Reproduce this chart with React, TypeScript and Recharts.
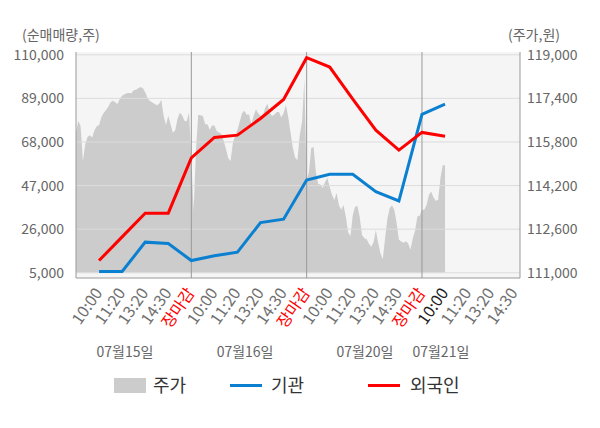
import React from "react";
import {
	Area,
	CartesianGrid,
	ComposedChart,
	Line,
	ReferenceLine,
	XAxis,
	YAxis,
} from "recharts";

// x slots: each trading day spans 5 slots (09:00 -> 장마감)
const timeLabels = [
	"10:00", "11:20", "13:20", "14:30", "장마감",
	"10:00", "11:20", "13:20", "14:30", "장마감",
	"10:00", "11:20", "13:20", "14:30", "장마감",
	"10:00", "11:20", "13:20", "14:30",
];
const dateLabels = ["07월15일", "07월16일", "07월20일", "07월21일"];
const datePositions = [1.12, 6.33, 11.53, 14.82];
const currentSlot = 15;

const leftTicks = [5000, 26000, 47000, 68000, 89000, 110000];
const rightTicks = [111000, 112600, 114200, 115800, 117400, 119000];
const closeSlots = [4, 9, 14];

// 순매매량 (cumulative), one point per slot
const lineSlots = [0, 1, 2, 3, 4, 5, 6, 7, 8, 9, 10, 11, 12, 13, 14, 15];
const foreignNet = [
	10900, 22300, 33700, 33700, 60300, 70200, 71300, 79300, 88500, 108600, 104100, 88600,
	73700, 64100, 72600, 70800,
];
const institutionNet = [
	5600, 5600, 19750, 19100, 10900, 13200, 14900, 29200, 30800, 49700, 52400, 52400, 44100,
	39600, 81300, 86200,
];

// 주가, sampled every 0.1 slot from the open of each day
const dayStarts = [-1, 4, 9, 14];
const priceDay1 = [
	116130, 116580, 116380, 115100, 115720, 115980, 116050, 115960, 116230, 116380, 116420,
	116710, 116860, 116970, 117090, 117260, 117310, 117260, 117190, 117390, 117500, 117550,
	117590, 117600, 117590, 117700, 117720, 117770, 117820, 117770, 117620, 117420, 117300,
	117260, 117200, 117150, 117190, 117350, 116750, 116420, 116760, 116450, 116140, 116230,
	116640, 116870, 116780, 116580, 116560, 116870,
];
const priceDay2 = [
	115200, 113270, 115500, 116800, 116780, 116750, 116450, 116450, 116250, 116400, 116400,
	116200, 116150, 116100, 115850, 115550, 115200, 115100, 115750, 116050, 116250, 116550,
	116850, 116950, 116800, 116820, 116450, 116750, 117000, 116850, 116750, 116770, 117050,
	117200, 116870, 116750, 116800, 116900, 116900, 116700, 116850, 117170, 116720, 116150,
	115600, 115230, 115130, 116050, 116530, 118100,
];
const priceDay3 = [
	114400, 114700, 115580, 115620, 114700, 114260, 114240, 114110, 114330, 114480, 114150,
	113850, 113670, 113930, 113480, 113310, 113490, 113050, 112480, 112350, 113120, 113420,
	113450, 113050, 112390, 112270, 112230, 112070, 111960, 112120, 112570, 112100, 111720,
	111500, 112260, 112980, 113370, 113480, 113310, 112840, 112210, 112150, 112100, 112160,
	112080, 111850, 112260, 112540, 113070, 113090,
];
const priceDay4 = [
	113310, 113310, 113490, 113850, 113980, 113760, 113640, 113670, 114480, 114950, 114950,
];
const priceDays = [priceDay1, priceDay2, priceDay3, priceDay4];

type Row = { t: number; price?: number; foreign?: number; inst?: number };

const rowMap = new Map<number, Row>();
priceDays.forEach((prices, d) => {
	prices.forEach((p, k) => {
		const key = Math.round(dayStarts[d] * 10) + k;
		rowMap.set(key, { t: key / 10, price: p });
	});
});
lineSlots.forEach((slot, i) => {
	const key = slot * 10;
	const row = rowMap.get(key) ?? { t: slot };
	row.foreign = foreignNet[i];
	row.inst = institutionNet[i];
	rowMap.set(key, row);
});
const chartData = [...rowMap.values()].sort((a, b) => a.t - b.t);

const FONT = "'Noto Sans CJK KR', 'Noto Sans', sans-serif";
const BLUE = "#0c80d0";
const RED = "#ff0000";

// biome-ignore lint/suspicious/noExplicitAny: recharts tick props
const TimeTick = (props: any) => {
	const { x, y, payload } = props;
	const i = payload.value;
	const label = timeLabels[i];
	const color = label === "장마감" ? RED : i === currentSlot ? "#222" : "#707070";
	return (
		<text
			transform={`translate(${x + 4},${y + 15}) rotate(-55)`}
			textAnchor="end"
			fontSize={16}
			fill={color}
		>
			{label}
		</text>
	);
};

// biome-ignore lint/suspicious/noExplicitAny: recharts tick props
const DateTick = (props: any) => {
	const { x, y, index } = props;
	return (
		<text x={x} y={y + 19} textAnchor="middle" fontSize={14} fill="#666">
			{dateLabels[index]}
		</text>
	);
};

export default function App() {
	return (
		<div
			style={{
				position: "absolute",
				left: 0,
				top: 0,
				width: 600,
				height: 428,
				background: "#fff",
				fontFamily: FONT,
			}}
		>
			<div style={{ position: "absolute", left: 22, top: 24, fontSize: 14, color: "#666" }}>
				(순매매량,주)
			</div>
			<div style={{ position: "absolute", left: 508, top: 24, fontSize: 14, color: "#666" }}>
				(주가,원)
			</div>

			<ComposedChart
				width={600}
				height={428}
				data={chartData}
				margin={{ top: 52, right: 0, left: 0, bottom: 60 }}
			>
				<CartesianGrid fill="#f5f5f5" horizontal={false} vertical={false} yAxisId="left" />
				<XAxis
					dataKey="t"
					type="number"
					domain={[-1, 18.25]}
					ticks={timeLabels.map((_, i) => i)}
					interval={0}
					height={60}
					tickSize={0}
					tickMargin={0}
					tickLine={false}
					axisLine={{ stroke: "#999" }}
					tick={<TimeTick />}
				/>
				<XAxis
					xAxisId="date"
					dataKey="t"
					type="number"
					domain={[-1, 18.25]}
					ticks={datePositions}
					interval={0}
					height={30}
					tickSize={0}
					tickMargin={0}
					tickLine={false}
					axisLine={false}
					tick={<DateTick />}
				/>
				<YAxis
					yAxisId="left"
					orientation="left"
					width={76}
					domain={[2490, 111330]}
					ticks={leftTicks}
					interval={0}
					tickSize={0}
					tickMargin={12}
					tickLine={false}
					axisLine={{ stroke: "#999" }}
					tick={{ fontSize: 14, fill: "#666" }}
					tickFormatter={(v) => v.toLocaleString("en-US")}
				/>
				<YAxis
					yAxisId="right"
					orientation="right"
					width={80}
					domain={[110809, 119101]}
					ticks={rightTicks}
					interval={0}
					tickSize={0}
					tickMargin={7}
					tickLine={false}
					axisLine={{ stroke: "#999" }}
					tick={{ fontSize: 14, fill: "#666", textAnchor: "start" }}
					tickFormatter={(v) => v.toLocaleString("en-US")}
				/>
				<Area
					yAxisId="right"
					dataKey="price"
					type="linear"
					fill="#cccccc"
					fillOpacity={1}
					stroke="none"
					baseValue={111000}
					dot={false}
					activeDot={false}
					isAnimationActive={false}
				/>
				{leftTicks.map((v) => (
					<ReferenceLine key={v} yAxisId="left" y={v} stroke="#dcdcdc" />
				))}
				{closeSlots.map((s) => (
					<ReferenceLine key={s} yAxisId="left" x={s} stroke="#999" />
				))}
				<Line
					yAxisId="left"
					dataKey="inst"
					type="linear"
					stroke={BLUE}
					strokeWidth={3}
					dot={false}
					activeDot={false}
					connectNulls
					isAnimationActive={false}
				/>
				<Line
					yAxisId="left"
					dataKey="foreign"
					type="linear"
					stroke={RED}
					strokeWidth={3}
					dot={false}
					activeDot={false}
					connectNulls
					isAnimationActive={false}
				/>
			</ComposedChart>

			<svg
				width={600}
				height={40}
				style={{ position: "absolute", left: 0, top: 366 }}
				fontFamily={FONT}
			>
				<rect x={114} y={12} width={32} height={15} fill="#cccccc" />
				<text x={153} y={26} fontSize={18} fill="#333">
					주가
				</text>
				<rect x={230} y={18} width={32} height={3} fill={BLUE} />
				<text x={271} y={26} fontSize={18} fill="#333">
					기관
				</text>
				<rect x={368} y={18} width={32} height={3} fill={RED} />
				<text x={410} y={26} fontSize={18} fill="#333">
					외국인
				</text>
			</svg>
		</div>
	);
}
